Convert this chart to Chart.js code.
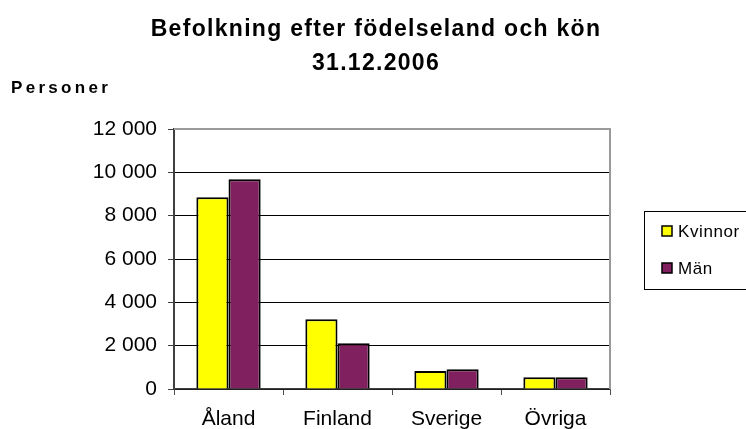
<!DOCTYPE html>
<html lang="sv">
<head>
  <meta charset="UTF-8">
  <title>Befolkning efter födelseland och kön</title>
  <script src="https://cdn.jsdelivr.net/npm/chart.js"></script>
  <style>
    body, html {
      margin: 0;
      padding: 0;
      background: #fff;
      overflow: hidden;
    }
    canvas {
      display: block;
    }
  </style>
</head>
<body>
  <canvas id="popChart" width="746" height="429"></canvas>

  <script>
    // Data
    const titleLines = ['Befolkning efter födelseland och kön', '31.12.2006'];
    const unitLabel = 'Personer';
    const countries = ['Åland', 'Finland', 'Sverige', 'Övriga'];
    const seriesNames = ['Kvinnor', 'Män'];
    const kvinnor = [8850, 3220, 830, 540];
    const man = [9680, 2110, 910, 540];
    const seriesColors = ['#FFFF00', '#80205F'];

    const FONT = "'Liberation Sans', Arial, sans-serif";

    // Format with space as thousands separator (12 000)
    function fmt(v) {
      return String(v).replace(/\B(?=(\d{3})+(?!\d))/g, ' ');
    }

    // Title, unit label, plot frame and the boxed legend on the right
    const decorations = {
      id: 'decorations',
      beforeDatasetsDraw(chart) {
        const { ctx, chartArea } = chart;
        ctx.save();
        ctx.strokeStyle = '#9a9a9a';
        ctx.lineWidth = 2;
        ctx.beginPath();
        ctx.moveTo(chartArea.left, chartArea.top);
        ctx.lineTo(chartArea.right, chartArea.top);
        ctx.lineTo(chartArea.right, chartArea.bottom);
        ctx.stroke();
        ctx.restore();
      },
      afterDraw(chart) {
        const ctx = chart.ctx;
        ctx.save();
        ctx.fillStyle = '#000';
        ctx.textBaseline = 'alphabetic';

        // title
        ctx.font = 'bold 23px ' + FONT;
        ctx.letterSpacing = '1.3px';
        ctx.textAlign = 'center';
        ctx.fillText(titleLines[0], 376, 36);
        ctx.fillText(titleLines[1], 376, 70);

        // unit label
        ctx.font = 'bold 17px ' + FONT;
        ctx.letterSpacing = '3.3px';
        ctx.textAlign = 'left';
        ctx.fillText(unitLabel, 11, 93);

        // legend box
        ctx.letterSpacing = '0.6px';
        ctx.strokeStyle = '#000';
        ctx.lineWidth = 1;
        ctx.strokeRect(644.5, 211.5, 110, 78);
        ctx.font = '17px ' + FONT;
        chart.data.datasets.forEach((ds, i) => {
          const y = 237 + i * 37;
          ctx.fillStyle = ds.backgroundColor;
          ctx.fillRect(662, y - 11, 10, 10);
          ctx.lineWidth = 1.5;
          ctx.strokeRect(662, y - 11, 10, 10);
          ctx.fillStyle = '#000';
          ctx.fillText(ds.label, 678, y);
        });
        ctx.restore();
      }
    };

    const ctx = document.getElementById('popChart').getContext('2d');
    new Chart(ctx, {
      type: 'bar',
      data: {
        labels: countries,
        datasets: [
          {
            label: seriesNames[0],
            data: kvinnor,
            backgroundColor: seriesColors[0],
            borderColor: '#000',
            borderWidth: 2,
            categoryPercentage: 0.59,
            barPercentage: 1
          },
          {
            label: seriesNames[1],
            data: man,
            backgroundColor: seriesColors[1],
            borderColor: '#000',
            borderWidth: 2,
            categoryPercentage: 0.59,
            barPercentage: 1
          }
        ]
      },
      options: {
        responsive: false,
        animation: false,
        devicePixelRatio: 1,
        layout: {
          padding: { top: 129, right: 136, bottom: 0, left: 0 }
        },
        scales: {
          x: {
            grid: {
              drawOnChartArea: false,
              drawTicks: true,
              tickLength: 6,
              color: '#505050'
            },
            border: { color: '#404040', width: 1.5 },
            ticks: {
              color: '#000',
              padding: 12,
              font: { family: FONT, size: 21 }
            },
            afterFit(scale) { scale.height = 40; }
          },
          y: {
            min: 0,
            max: 12000,
            ticks: {
              stepSize: 2000,
              color: '#000',
              padding: 11,
              font: { family: FONT, size: 21 },
              callback: (v) => fmt(v)
            },
            grid: {
              color: (c) => (c.tick && c.tick.value === 12000 ? '#9a9a9a' : '#000'),
              tickColor: '#404040',
              tickLength: 6,
              lineWidth: 1
            },
            border: { color: '#404040', width: 2 },
            afterFit(scale) { scale.width = 174; }
          }
        },
        plugins: {
          legend: { display: false },
          title: { display: false },
          tooltip: { enabled: false }
        }
      },
      plugins: [decorations]
    });
  </script>
</body>
</html>
